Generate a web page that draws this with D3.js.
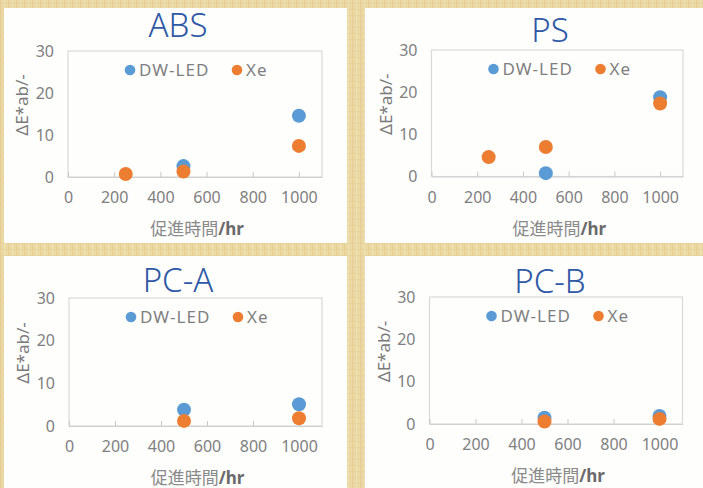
<!DOCTYPE html>
<html>
<head>
<meta charset="utf-8">
<script src="https://cdn.jsdelivr.net/npm/d3@7"></script>
<style>
  html, body { margin: 0; padding: 0; background: #ead59e; }
  svg { display: block; }
  text { font-family: "Noto Sans", "Noto Sans CJK JP", sans-serif; }
</style>
</head>
<body>
<svg id="chart" width="703" height="488"></svg>
<script>
// ---- data -------------------------------------------------------------
const panelNames = ["ABS", "PS", "PC-A", "PC-B"];
const seriesNames = ["DW-LED", "Xe"];
const xTicks = [0, 200, 400, 600, 800, 1000];
const yTicks = [0, 10, 20, 30];

// ABS
const absLedHours = [500, 1000];
const absLedValues = [2.6, 14.6];
const absXeHours = [250, 500, 1000];
const absXeValues = [0.7, 1.3, 7.4];
// PS
const psLedHours = [500, 1000];
const psLedValues = [0.8, 18.8];
const psXeHours = [250, 500, 1000];
const psXeValues = [4.6, 7.0, 17.3];
// PC-A
const pcaLedHours = [500, 1000];
const pcaLedValues = [3.8, 5.1];
const pcaXeHours = [500, 1000];
const pcaXeValues = [1.2, 1.8];
// PC-B
const pcbLedHours = [500, 1000];
const pcbLedValues = [1.5, 1.9];
const pcbXeHours = [500, 1000];
const pcbXeValues = [0.6, 1.2];

const xTitle = "促進時間";
const xUnit = "/hr";
const yTitle = "ΔE*ab/-";

// ---- layout -----------------------------------------------------------
const colors = { "DW-LED": "#5b9bd5", "Xe": "#ed7d31" };
const layouts = [
  { card: [4, 8, 347, 243],   plot: [68, 51, 322, 177],   titleX: 178, titleY: 37 },
  { card: [365, 8, 710, 243], plot: [431.5, 50, 683, 176.5], titleX: 550, titleY: 42 },
  { card: [4, 256, 347, 495], plot: [69, 298, 322, 426],  titleX: 178, titleY: 292 },
  { card: [365, 256, 710, 495], plot: [429.5, 297, 682.5, 424], titleX: 550, titleY: 293 }
];

function zip(hours, values) { return hours.map((h, i) => ({ h, v: values[i] })); }
const panelSeries = [
  [zip(absLedHours, absLedValues), zip(absXeHours, absXeValues)],
  [zip(psLedHours, psLedValues), zip(psXeHours, psXeValues)],
  [zip(pcaLedHours, pcaLedValues), zip(pcaXeHours, pcaXeValues)],
  [zip(pcbLedHours, pcbLedValues), zip(pcbXeHours, pcbXeValues)]
];

const svg = d3.select("#chart");

// woven beige backdrop
const defs = svg.append("defs");
const pat = defs.append("pattern").attr("id", "weave")
  .attr("width", 8).attr("height", 6).attr("patternUnits", "userSpaceOnUse");
pat.append("rect").attr("width", 8).attr("height", 6).attr("fill", "#ecd8a3");
pat.append("rect").attr("x", 0).attr("y", 0).attr("width", 1).attr("height", 6).attr("fill", "#e3cc92").attr("opacity", 0.8);
pat.append("rect").attr("x", 4).attr("y", 0).attr("width", 1).attr("height", 6).attr("fill", "#f3e4bb").attr("opacity", 0.8);
pat.append("rect").attr("x", 0).attr("y", 3).attr("width", 8).attr("height", 1).attr("fill", "#e5cf97").attr("opacity", 0.6);
svg.append("rect").attr("width", 703).attr("height", 488).attr("fill", "url(#weave)");

panelNames.forEach((name, idx) => {
  const L = layouts[idx];
  const [cx0, cy0, cx1, cy1] = L.card;
  const [px0, py0, px1, py1] = L.plot;
  const g = svg.append("g");

  g.append("rect").attr("x", cx0).attr("y", cy0)
    .attr("width", cx1 - cx0).attr("height", cy1 - cy0).attr("fill", "#fefefd");

  const x = d3.scaleLinear().domain([0, 1100]).range([px0, px1]);
  const y = d3.scaleLinear().domain([0, 30]).range([py1, py0]);

  // plot frame
  g.append("rect").attr("x", px0).attr("y", py0)
    .attr("width", px1 - px0).attr("height", py1 - py0)
    .attr("fill", "none").attr("stroke", "#d9d9d9").attr("stroke-width", 1.2);

  // x axis: inside ticks pointing up, labels below
  const xAxis = d3.axisBottom(x).tickValues(xTicks).tickFormat(d3.format("d"))
    .tickSizeInner(-5).tickSizeOuter(0).tickPadding(15);
  const xa = g.append("g").attr("transform", `translate(0,${py1})`).call(xAxis);
  xa.select(".domain").attr("stroke", "#d0d0d0").attr("stroke-width", 1.2);
  xa.selectAll(".tick line").attr("stroke", "#c8c8c8");
  xa.selectAll(".tick text").attr("font-size", 16).attr("fill", "#808080")
    .attr("font-family", "'Noto Sans', sans-serif");

  // y axis: labels only
  const yAxis = d3.axisLeft(y).tickValues(yTicks).tickFormat(d3.format("d")).tickSize(0).tickPadding(14);
  const ya = g.append("g").attr("transform", `translate(${px0},0)`).call(yAxis);
  ya.select(".domain").remove();
  ya.selectAll(".tick text").attr("font-size", 16).attr("fill", "#808080")
    .attr("font-family", "'Noto Sans', sans-serif");

  // title
  g.append("text").attr("x", L.titleX).attr("y", L.titleY)
    .attr("text-anchor", "middle").attr("font-size", 33)
    .attr("font-family", "'Open Sans', 'Noto Sans', sans-serif").attr("font-weight", 300)
    .attr("fill", "#2f59a6").text(name);

  // axis titles
  const xt = g.append("text").attr("x", (px0 + px1) / 2 + 2).attr("y", py1 + 58)
    .attr("text-anchor", "middle").attr("font-size", 17).attr("fill", "#8a8a8a")
    .attr("font-family", "'Noto Sans CJK JP', sans-serif");
  xt.append("tspan").text(xTitle);
  xt.append("tspan").attr("font-weight", "bold").attr("fill", "#6a6a6a").text(xUnit);

  g.append("text")
    .attr("transform", `translate(${px0 - 40},${(py0 + py1) / 2 - 9}) rotate(-90)`)
    .attr("text-anchor", "middle").attr("font-size", 17).attr("fill", "#7a7a7a")
    .text(yTitle);

  // legend
  const legendOffsets = [62, 169];
  seriesNames.forEach((s, i) => {
    const lx = px0 + legendOffsets[i];
    const ly = py0 + 19;
    g.append("circle").attr("cx", lx).attr("cy", ly).attr("r", 5.3).attr("fill", colors[s]);
    g.append("text").attr("x", lx + 9).attr("y", ly + 6)
      .attr("font-size", 17).attr("letter-spacing", 1).attr("fill", "#7f7f7f").text(s);
  });

  // markers
  seriesNames.forEach((s, i) => {
    g.append("g").selectAll("circle")
      .data(panelSeries[idx][i])
      .join("circle")
      .attr("cx", d => x(d.h))
      .attr("cy", d => y(d.v))
      .attr("r", 7)
      .attr("fill", colors[s]);
  });
});
</script>
</body>
</html>
